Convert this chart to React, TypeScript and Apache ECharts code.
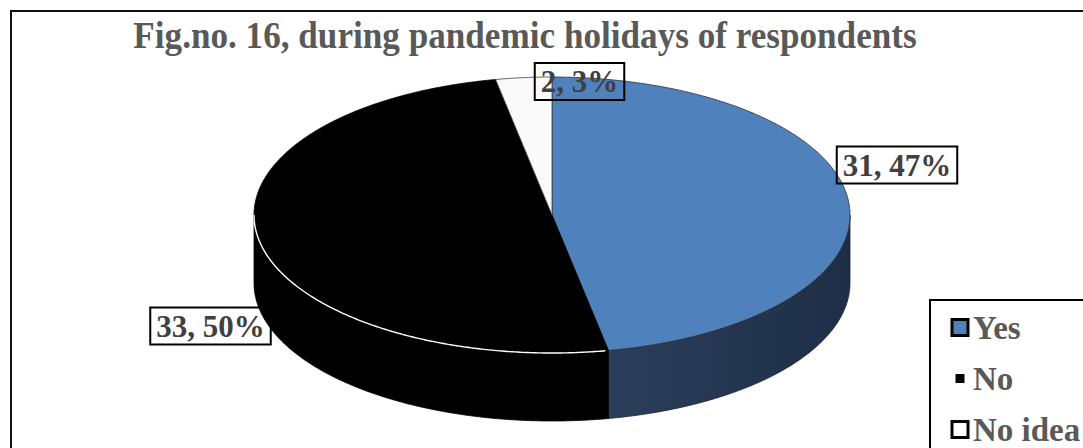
import React, { useEffect, useRef } from "react";
import * as echarts from "echarts";

// Survey answers
const categories = ["Yes", "No", "No idea"];
const values = [31, 33, 2];
const chartTitle = "Fig.no. 16, during pandemic holidays of respondents";

// Slice appearance
const topColors = ["#4F81BD", "#000000", "#FAFAFA"];
const topStrokes = ["#2E2E2E", "#000000", "#404040"];
const sideColors: any[] = [
  new echarts.graphic.LinearGradient(0, 0, 1, 0, [
    { offset: 0, color: "#2B3E5B" },
    { offset: 1, color: "#1E2E46" },
  ]),
  "#000000",
  "#D9D9D9",
];
// Label box centres, per slice
const labelPos = [
  [897, 165],
  [210.5, 326],
  [579.5, 81.5],
];

// Pie geometry (tilted disc)
const CX = 552;
const CY = 215;
const RX = 298;
const RY = 138;
const DEPTH = 68;

const total = values.reduce((a, b) => a + b, 0);
const starts: number[] = [];
values.reduce((acc, v) => {
  starts.push((acc / total) * 360);
  return acc + v;
}, 0);

const pt = (deg: number, dy = 0): number[] => {
  const r = (deg * Math.PI) / 180;
  return [CX + RX * Math.sin(r), CY - RY * Math.cos(r) + dy];
};

const arc = (a0: number, a1: number, dy = 0): number[][] => {
  const n = Math.max(2, Math.ceil(Math.abs(a1 - a0) / 0.5));
  const out: number[][] = [];
  for (let k = 0; k <= n; k++) out.push(pt(a0 + ((a1 - a0) * k) / n, dy));
  return out;
};

const makeRender = (i: number) => (params: any, api: any) => {
  const v = api.value(0);
  const a0 = starts[i];
  const a1 = a0 + (v / total) * 360;
  const children: any[] = [];

  // Visible outer wall: the front half of the disc (90°..270° clockwise from top)
  const s = Math.max(a0, 90);
  const e = Math.min(a1, 270);
  if (e > s) {
    const pts = arc(s, e).concat(arc(e, s, DEPTH));
    children.push({
      type: "polygon",
      z2: 1,
      shape: { points: pts },
      style: { fill: sideColors[i], stroke: i === 0 ? "#1A2538" : "#000", lineWidth: 0.8 },
    });
  }

  // Top face
  children.push({
    type: "polygon",
    z2: 2,
    shape: { points: [[CX, CY]].concat(arc(a0, a1)) },
    style: { fill: topColors[i], stroke: topStrokes[i], lineWidth: 0.8 },
  });

  // Light rim along the front edge of the dark slice
  if (i === 1 && e > s) {
    children.push({
      type: "polyline",
      z2: 3,
      shape: { points: arc(s + 0.6, e) },
      style: { stroke: "#FFFFFF", lineWidth: 1.4, fill: null },
    });
  }

  // Value label
  const pct = Math.round((v / total) * 100);
  children.push({
    type: "text",
    z2: 10,
    style: {
      text: `${v}, ${pct}%`,
      x: labelPos[i][0],
      y: labelPos[i][1],
      align: "center",
      verticalAlign: "middle",
      fill: "#404040",
      font: 'bold 31px "Liberation Serif"',
      borderColor: "#000",
      borderWidth: 2,
      padding: [4, 6, 2, 6],
    },
  });

  return { type: "group", children };
};

export default function App() {
  const ref = useRef<HTMLDivElement>(null);

  useEffect(() => {
    if (!ref.current) return;
    const chart = echarts.init(ref.current, null, { renderer: "svg" });
    chart.setOption({
      animation: false,
      backgroundColor: "#FFFFFF",
      legend: {
        orient: "vertical",
        left: 948.5,
        top: 311,
        padding: 0,
        itemWidth: 16,
        itemHeight: 16,
        itemGap: 18,
        selectedMode: false,
        textStyle: {
          fontFamily: "Liberation Serif",
          fontWeight: "bold",
          fontSize: 33,
          color: "#595959",
        },
        data: [
          { name: categories[0], icon: "rect", itemStyle: { color: topColors[0], borderColor: "#000", borderWidth: 3 } },
          { name: categories[1], icon: "rect", itemStyle: { color: "#000", borderColor: "#fff", borderWidth: 7 } },
          { name: categories[2], icon: "rect", itemStyle: { color: "#fff", borderColor: "#000", borderWidth: 3 } },
        ],
      },
      graphic: [
        {
          type: "rect",
          z: -1,
          shape: { x: 11, y: 11, width: 1300, height: 700 },
          style: { fill: "none", stroke: "#111", lineWidth: 2 },
        },
        {
          type: "rect",
          z: -1,
          shape: { x: 930, y: 300, width: 400, height: 400 },
          style: { fill: "none", stroke: "#000", lineWidth: 2 },
        },
        {
          type: "text",
          x: 525,
          y: 16,
          scaleX: 0.925,
          style: {
            text: chartTitle,
            align: "center",
            verticalAlign: "top",
            font: 'bold 38px "Liberation Serif"',
            fill: "#595959",
          },
        },
      ],
      series: categories.map((name, i) => ({
        type: "custom",
        name,
        coordinateSystem: "none",
        itemStyle: { color: topColors[i] },
        data: [[values[i]]],
        renderItem: makeRender(i),
      })),
    });
    return () => chart.dispose();
  }, []);

  return (
    <div
      ref={ref}
      style={{ position: "fixed", left: 0, top: 0, width: 1083, height: 448 }}
    />
  );
}
